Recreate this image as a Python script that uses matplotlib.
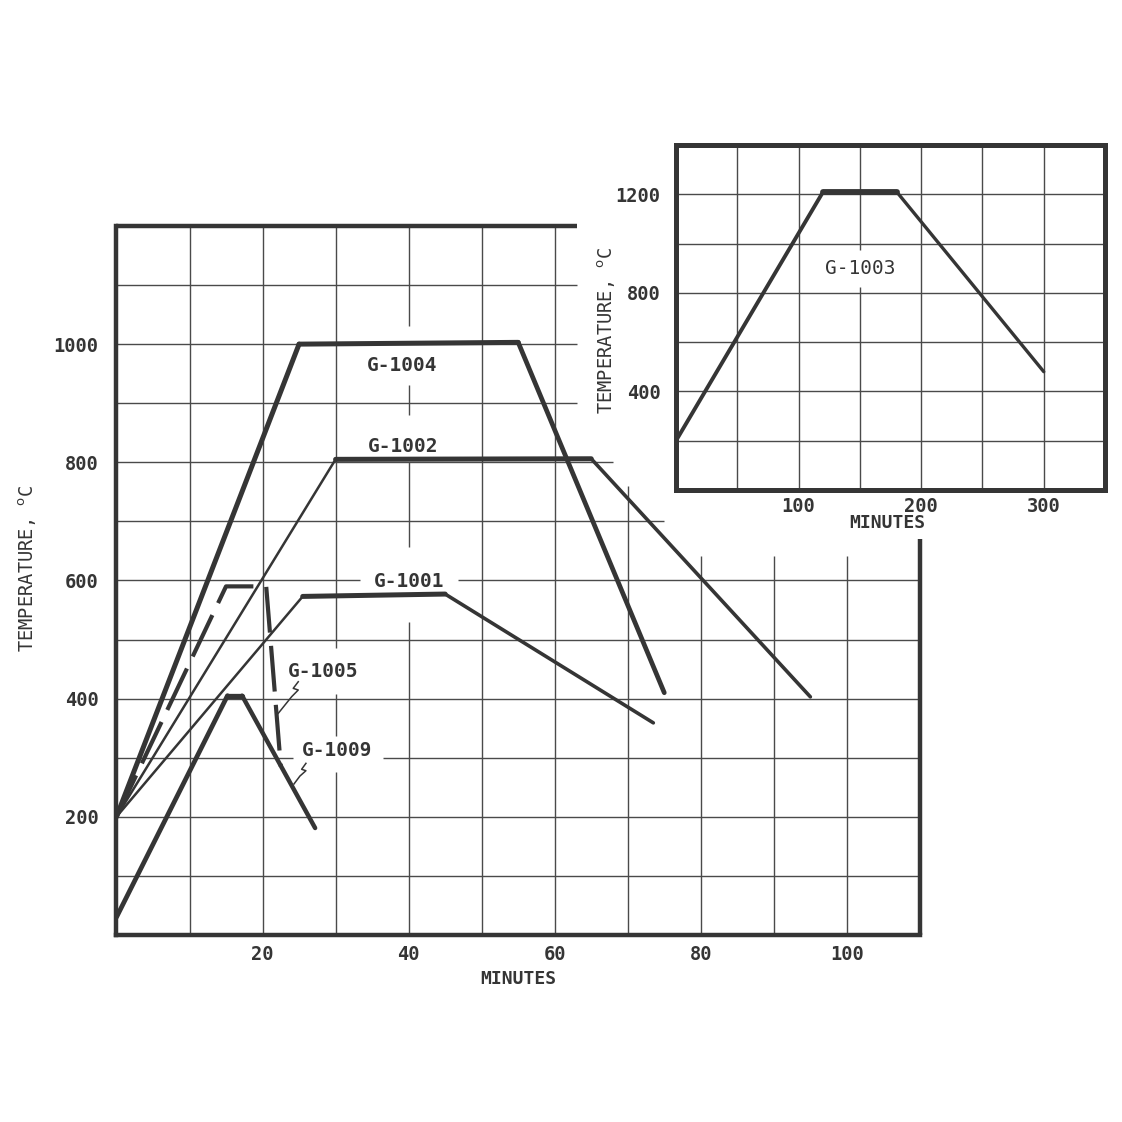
import matplotlib
matplotlib.use("Agg")
import matplotlib.pyplot as plt

# ---------------- data ----------------
g1004_t = [0, 25, 55, 75]
g1004_T = [200, 1000, 1003, 410]
g1002_t = [0, 30, 65, 95]
g1002_T = [200, 805, 806, 403]
g1001_t = [0, 25.5, 45, 73.5]
g1001_T = [200, 573, 577, 359]
g1005_t = [0, 15, 20.5, 22.5]
g1005_T = [200, 590, 590, 285]
g1009_t = [0, 15.2, 17.2, 27.2]
g1009_T = [30, 405, 405, 181]
g1003_t = [0, 120, 180, 300]
g1003_T = [200, 1210, 1210, 480]

main_xticks = [20, 40, 60, 80, 100]
main_yticks = [200, 400, 600, 800, 1000]
inset_xticks = [100, 200, 300]
inset_yticks = [400, 800, 1200]

# ---------------- style ----------------
INK = "#353535"
GRID = "#4a4a4a"
FONT = "DejaVu Sans Mono"
plt.rcParams["font.family"] = [FONT, "DejaVu Sans"]

fig = plt.figure(figsize=(11.22, 11.22), dpi=100)
fig.patch.set_facecolor("white")

# ---------------- main axes ----------------
ax = fig.add_axes([0.1038, 0.1667, 0.7161, 0.6319])
ax.set_xlim(0, 110)
ax.set_ylim(0, 1200)
for s in ["top", "right"]:
    ax.spines[s].set_visible(False)
for s in ["left", "bottom"]:
    ax.spines[s].set_linewidth(3.2)
    ax.spines[s].set_color(INK)

# stepped grid (the upper right corner is cut away for the inset)
vgrid = {
    10: [(0, 1200)], 20: [(0, 1200)],
    30: [(0, 275), (337, 408), (485, 1200)],
    40: [(0, 530), (657, 800), (880, 930), (1031, 1200)],
    50: [(0, 1200)], 60: [(0, 1200)], 70: [(0, 760)],
    80: [(0, 641)], 90: [(0, 641)], 100: [(0, 641)],
}
hgrid = {
    100: [(0, 110)], 200: [(0, 110)], 300: [(0, 24.2), (36.5, 110)],
    400: [(0, 110)], 500: [(0, 110)], 600: [(0, 33.4), (46.8, 110)],
    700: [(0, 75)], 800: [(0, 68)], 900: [(0, 63)], 1000: [(0, 63)],
    1100: [(0, 63)],
}
for x, segs in vgrid.items():
    for y0, y1 in segs:
        ax.vlines(x, y0, y1, color=GRID, lw=1.0, zorder=1)
for y, segs in hgrid.items():
    for x0, x1 in segs:
        ax.hlines(y, x0, x1, color=GRID, lw=1.0, zorder=1)
# partial frame: top and right borders
ax.hlines(1200, 0, 63, color=INK, lw=3.2, clip_on=False, zorder=3)
ax.vlines(110, 0, 670, color=INK, lw=3.2, clip_on=False, zorder=3)


def seg_plot(axis, t, T, widths, **kw):
    for i in range(len(t) - 1):
        axis.plot(t[i:i + 2], T[i:i + 2], color=INK, lw=widths[i],
                  solid_capstyle="round", zorder=4, **kw)


seg_plot(ax, g1004_t, g1004_T, [3.6, 3.6, 3.4])
seg_plot(ax, g1002_t, g1002_T, [1.8, 3.6, 2.6])
seg_plot(ax, g1001_t, g1001_T, [1.8, 3.6, 2.6])
seg_plot(ax, g1009_t, g1009_T, [3.4, 3.8, 3.2])
ax.plot(g1005_t, g1005_T, color=INK, lw=3.0, dashes=(11, 3.2), zorder=4)

ax.set_xticks(main_xticks)
ax.set_yticks(main_yticks)
ax.tick_params(length=0, labelsize=13.5, colors=INK)
ax.tick_params(axis="y", pad=13)
ax.tick_params(axis="x", pad=7.5)
for lab in ax.get_xticklabels() + ax.get_yticklabels():
    lab.set_fontweight("bold")

ax.set_xlabel("MINUTES", fontsize=13, fontweight="bold", color=INK)
ax.xaxis.set_label_coords(0.5, -0.049)
ax.set_ylabel(r"TEMPERATURE, $^{\mathsf{o}}$C", fontsize=13.5, color=INK,
              va="center", ha="center")
ax.yaxis.set_label_coords(-0.110, 0.517)

lbl = dict(fontsize=14, fontweight="bold", color=INK, zorder=5)
ax.text(39.1, 963, "G-1004", ha="center", va="center", **lbl)
ax.text(39.2, 827, "G-1002", ha="center", va="center", **lbl)
ax.text(40.0, 599, "G-1001", ha="center", va="center", **lbl)
ax.text(23.4, 446, "G-1005", ha="left", va="center", **lbl)
ax.text(25.4, 312, "G-1009", ha="left", va="center", **lbl)

# squiggle leaders
ax.plot([24.89, 24.20, 24.89, 23.98, 22.15],
        [428.6, 417.4, 414.6, 403.2, 375.1], color=INK, lw=1.1, zorder=5)
ax.plot([25.94, 25.35, 25.94, 25.12, 24.30],
        [290.5, 280.4, 278.0, 269.0, 255.5], color=INK, lw=1.1, zorder=5)

# ---------------- inset ----------------
ai = fig.add_axes([0.6025, 0.5633, 0.3824, 0.3075], zorder=10)
ai.set_facecolor("white")
ai.set_xlim(0, 350)
ai.set_ylim(0, 1400)
for s in ai.spines.values():
    s.set_linewidth(3.6)
    s.set_color(INK)
inset_vgrid = {50: [(0, 1400)], 100: [(0, 1400)], 150: [(0, 823), (973, 1400)],
               200: [(0, 1400)], 250: [(0, 1400)], 300: [(0, 1400)]}
for x, segs in inset_vgrid.items():
    for y0, y1 in segs:
        ai.vlines(x, y0, y1, color=GRID, lw=1.0, zorder=1)
for y in [200, 400, 600, 800, 1000, 1200]:
    ai.hlines(y, 0, 350, color=GRID, lw=1.0, zorder=1)

seg_plot(ai, g1003_t, g1003_T, [2.8, 4.2, 2.4])

ai.set_xticks(inset_xticks)
ai.set_yticks(inset_yticks)
ai.tick_params(length=0, labelsize=13.5, colors=INK)
ai.tick_params(axis="y", pad=11)
ai.tick_params(axis="x", pad=5)
for lab in ai.get_xticklabels() + ai.get_yticklabels():
    lab.set_fontweight("bold")
ai.set_xlabel("MINUTES", fontsize=13, fontweight="bold", color=INK,
              va="center")
ai.xaxis.set_label_coords(0.493, -0.097)
ai.set_ylabel(r"TEMPERATURE, $^{\mathsf{o}}$C", fontsize=13.5, color=INK,
              va="center", ha="center")
ai.yaxis.set_label_coords(-0.161, 0.464)
ai.text(150, 898, "G-1003", ha="center", va="center", fontsize=14,
        color=INK, zorder=5)

fig.savefig("out.png", dpi=100, facecolor="white")
